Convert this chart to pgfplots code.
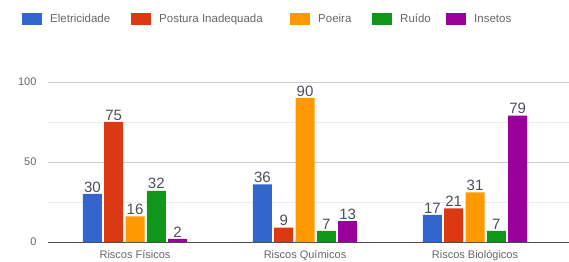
\documentclass[border=0pt]{standalone}
\usepackage{pgfplots}
\pgfplotsset{compat=1.18}
\usepackage{fontspec}
\setmainfont{Liberation Sans}
\definecolor{cBlue}{HTML}{3366CC}
\definecolor{cRed}{HTML}{DC3912}
\definecolor{cOrange}{HTML}{FF9900}
\definecolor{cGreen}{HTML}{109618}
\definecolor{cPurple}{HTML}{990099}
\definecolor{txtgray}{HTML}{666666}
\definecolor{lblgray}{HTML}{4A4F5A}
\begin{document}
\begin{tikzpicture}
\useasboundingbox (-48bp,-20bp) rectangle (521bp,242bp);
\begin{axis}[
  at={(0,0)}, anchor=south west,
  scale only axis, width=521bp, height=160bp,
  xmin=-0.512, xmax=2.553, ymin=0, ymax=100,
  ybar=2.3bp, bar width=19bp,
  axis line style={draw=none}, tick style={draw=none},
  xtick={0,1,2},
  xticklabels={Riscos Físicos, Riscos Químicos, Riscos Biológicos},
  ytick={0,50,100}, minor ytick={25,75},
  ymajorgrids, yminorgrids,
  major grid style={draw=black!20, line width=0.6pt},
  minor grid style={draw=black!7, line width=0.6pt},
  extra y ticks={0}, extra y tick labels={},
  extra y tick style={major grid style={draw=black!70, line width=0.8pt}},
  /pgf/number format/assume math mode=true,
  ticklabel style={font=\fontsize{11bp}{13bp}\selectfont, text=txtgray},
  yticklabel style={xshift=-8bp},
  xticklabel style={yshift=-1bp},
  clip=false,
  nodes near coords,
  every node near coord/.append style={font=\fontsize{15bp}{17bp}\selectfont, text=lblgray, inner sep=1.5bp, /pgf/number format/assume math mode=true},
  legend columns=5,
  legend style={at={(-0.0499,1.394)}, anchor=west, draw=none, fill=none,
    inner sep=0pt, font=\fontsize{11.5bp}{13bp}\selectfont, text=txtgray,
    nodes={inner sep=0pt},
    /tikz/every odd column/.style={column sep=8bp}},
  legend image code/.code={\fill[#1] (0bp,-6bp) rectangle (20bp,6bp);},
]
\addplot[fill=cBlue, draw=none] coordinates {(0,30) (1,36) (2,17)};
\addplot[fill=cRed, draw=none] coordinates {(0,75) (1,9) (2,21)};
\addplot[fill=cOrange, draw=none] coordinates {(0,16) (1,90) (2,31)};
\addplot[fill=cGreen, draw=none] coordinates {(0,32) (1,7) (2,7)};
\addplot[fill=cPurple, draw=none] coordinates {(0,2) (1,13) (2,79)};
\legend{\makebox[81bp][l]{Eletricidade},\makebox[131bp][l]{Postura Inadequada},\makebox[54bp][l]{Poeira},\makebox[46bp][l]{Ruído},Insetos}
\end{axis}
\end{tikzpicture}
\end{document}
